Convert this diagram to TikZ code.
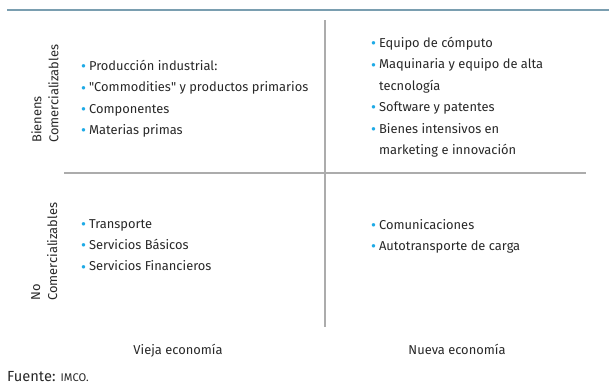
\documentclass[tikz,border=0pt]{standalone}
\usepackage{fontspec}
\setmainfont{Fira Sans}
\usepackage{tikz}

\definecolor{rulebl}{RGB}{122,158,176}
\definecolor{gridgr}{RGB}{172,172,172}
\definecolor{bulbl}{RGB}{30,170,230}
\definecolor{txtgr}{RGB}{40,40,40}
\newcommand{\bul}{\raisebox{-0.9pt}{\textcolor{bulbl}{\fontsize{13}{13}\selectfont\textbullet}}\hspace{2.5pt}}
\newcommand{\ind}{\phantom{\fontsize{13}{13}\selectfont\textbullet}\hspace{2.5pt}}

\begin{document}
\begin{tikzpicture}[x=0.03cm, y=-0.03cm,
	every node/.style={font=\fontsize{11}{18.3}\selectfont, text=txtgr, inner sep=0pt},
	items/.style={anchor=north west, align=left},
	side/.style={rotate=90, anchor=north west, align=left, font=\fontsize{11}{14.5}\selectfont},
	axis/.style={anchor=base, font=\fontsize{11}{12}\selectfont}]
	\useasboundingbox (0,0) rectangle (609,389);
	% rules
	\coordinate (top l) at (7,10);
	\coordinate (top r) at (609,10);
	\coordinate (mid t) at (325,20);
	\coordinate (mid b) at (325,327);
	\coordinate (mid l) at (64,173);
	\coordinate (mid r) at (586,173);
	\draw[rulebl, line width=1.4pt] (top l) -- (top r);
	\draw[gridgr, line width=1.2pt] (mid t) -- (mid b);
	\draw[gridgr, line width=1.2pt] (mid l) -- (mid r);
	% row labels
	\node[side] (bienes) at (31,143) {Bienens\\Comercializables};
	\node[side] (nocom) at (31,301) {No\\Comercializables};
	% quadrants
	\node[items] (q1) at (81,60) {\bul Producción industrial:\\ \bul \textquotedbl Commodities\textquotedbl{} y productos primarios\\ \bul Componentes\\ \bul Materias primas};
	\node[items] (q2) at (371,37) {\bul Equipo de cómputo\\ \bul Maquinaria y equipo de alta\\ \ind tecnología\\ \bul Software y patentes\\ \bul Bienes intensivos en\\ \ind marketing e innovación};
	\node[items] (q3) at (81,219) {\bul Transporte\\ \bul Servicios Básicos\\ \bul Servicios Financieros};
	\node[items] (q4) at (371,219) {\bul Comunicaciones\\ \bul Autotransporte de carga};
	% column labels
	\node[axis] (vieja) at (178,354) {Vieja economía};
	\node[axis] (nueva) at (457,354) {Nueva economía};
	\node[anchor=west, font=\fontsize{12.5}{14}\selectfont] (fuente) at (7,377) {Fuente: {\fontsize{9.5}{10}\selectfont IMCO.}};
\end{tikzpicture}
\end{document}
